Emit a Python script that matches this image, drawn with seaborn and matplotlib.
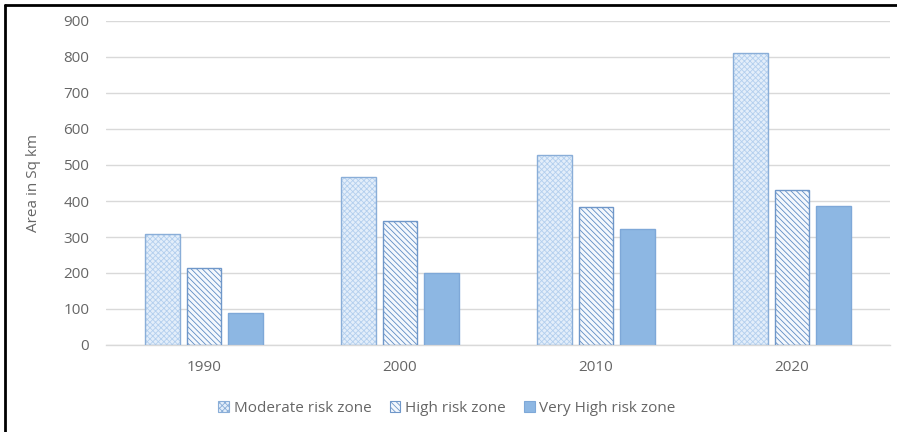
import matplotlib
matplotlib.use("Agg")
import matplotlib.pyplot as plt
from matplotlib.lines import Line2D
from matplotlib.patches import Patch
import seaborn as sns
import pandas as pd

years = ["1990", "2000", "2010", "2020"]
zones = ["Moderate risk zone", "High risk zone", "Very High risk zone"]
moderate = [308, 467, 528, 811]
high = [214, 344, 383, 430]
very_high = [89, 200, 322, 386]
y_ticks = [0, 100, 200, 300, 400, 500, 600, 700, 800, 900]

df = pd.DataFrame({
    "Year": years * 3,
    "Zone": [zones[0]] * 4 + [zones[1]] * 4 + [zones[2]] * 4,
    "Area": moderate + high + very_high,
})

sns.set_theme(style="white")
plt.rcParams["font.family"] = ["Open Sans", "DejaVu Sans"]
plt.rcParams["hatch.linewidth"] = 0.6

text_col = "#666666"
styles = {
    zones[0]: dict(face="#e3eefa", edge="#8aaed8", hatch="xxxxxx", hcol="#b3cfee"),
    zones[1]: dict(face="#f4f8fd", edge="#6f97c9", hatch="\\\\\\\\\\\\", hcol="#5f8cc4"),
    zones[2]: dict(face="#8db7e3", edge="#7ea8d8", hatch="", hcol="#8db7e3"),
}

fig = plt.figure(figsize=(8.97, 4.32), dpi=100)
ax = fig.add_axes([106 / 897, 1 - 345 / 432, (890 - 106) / 897, (345 - 21) / 432])

sns.barplot(data=df, x="Year", y="Area", hue="Zone", order=years, hue_order=zones,
            width=0.64, gap=0.17, ax=ax, legend=False, errorbar=None)

for container, zone in zip(ax.containers, zones):
    st = styles[zone]
    for bar in container:
        bar.set_facecolor(st["face"])
        bar.set_edgecolor(st["hcol"] if st["hatch"] else st["edge"])
        bar.set_hatch(st["hatch"])
        bar.set_linewidth(0)
        # outline drawn separately so the hatch keeps its own colour
        ax.add_patch(plt.Rectangle((bar.get_x(), bar.get_y()), bar.get_width(),
                                   bar.get_height(), fill=False, edgecolor=st["edge"],
                                   linewidth=1.0, zorder=3))

ax.set_ylim(0, 900)
ax.set_yticks(y_ticks)
ax.set_xlim(-0.5, 3.5)
ax.yaxis.grid(True, color="#d9d9d9", linewidth=1.0)
ax.set_axisbelow(True)
for s in ["top", "right", "left"]:
    ax.spines[s].set_visible(False)
ax.spines["bottom"].set_color("#d9d9d9")
ax.spines["bottom"].set_linewidth(1.0)
ax.tick_params(axis="both", length=0, labelsize=11, colors=text_col)
ax.tick_params(axis="y", pad=12)
ax.tick_params(axis="x", pad=11)
ax.set_xlabel("")
ax.set_ylabel("Area in Sq km", fontsize=11, color=text_col, labelpad=16)

handles = []
for zone in zones:
    st = styles[zone]
    handles.append(Patch(facecolor=st["face"], edgecolor=st["edge"], hatch=st["hatch"],
                         linewidth=0.8, label=zone))
fig.legend(handles=handles, loc="center", bbox_to_anchor=(447 / 897, 1 - 408 / 432),
           ncol=3, frameon=False, fontsize=11, labelcolor=text_col,
           handlelength=0.7, handleheight=0.7, handletextpad=0.3, columnspacing=1.2)

# frame lines along the top and left edges
fig.add_artist(Line2D([5 / 897, 1], [1 - 5 / 432, 1 - 5 / 432], color="black",
                      linewidth=2, transform=fig.transFigure))
fig.add_artist(Line2D([5 / 897, 5 / 897], [0, 1 - 5 / 432], color="black",
                      linewidth=2, transform=fig.transFigure))

fig.savefig("out.png", dpi=100, facecolor="white")
